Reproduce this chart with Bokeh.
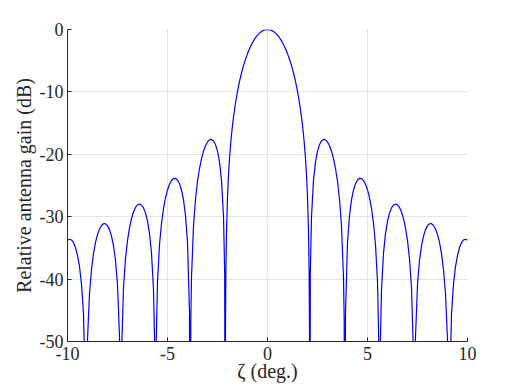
from bokeh.plotting import figure
from bokeh.models import Range1d, FixedTicker, CustomJSTickFormatter
from bokeh.embed import file_html
from bokeh.resources import INLINE

# Angle off boresight (degrees) and relative antenna gain (dB)
ZETA_DEG = [
    -10.0, -9.9, -9.8, -9.7, -9.6, -9.5, -9.4, -9.3, -9.2, -9.1, -9.075, -9.045,
    -9.0, -8.9, -8.8, -8.7, -8.6, -8.5, -8.4, -8.3, -8.2, -8.1, -8.0, -7.9, -7.8,
    -7.7, -7.6, -7.5, -7.4, -7.371, -7.341,
    -7.3, -7.2, -7.1, -7.0, -6.9, -6.8, -6.7, -6.6, -6.5, -6.4, -6.3, -6.2, -6.1,
    -6.0, -5.9, -5.8, -5.7, -5.635, -5.605, -5.575,
    -5.5, -5.4, -5.3, -5.2, -5.1, -5.0, -4.9, -4.8, -4.7, -4.6, -4.5, -4.4, -4.3,
    -4.2, -4.1, -4.0, -3.9, -3.865, -3.835,
    -3.8, -3.7, -3.6, -3.5, -3.4, -3.3, -3.2, -3.1, -3.0, -2.9, -2.8, -2.7, -2.6,
    -2.5, -2.4, -2.3, -2.2, -2.14, -2.111,
    -2.1, -2.08, -2.05, -2.0, -1.95, -1.9, -1.85, -1.8, -1.75,
    -1.7, -1.6, -1.5, -1.4, -1.3, -1.2, -1.1, -1.0, -0.9, -0.8, -0.7, -0.6, -0.5,
    -0.4, -0.3, -0.2, -0.1,
    0.0,
    0.1, 0.2, 0.3, 0.4, 0.5, 0.6, 0.7, 0.8, 0.9, 1.0, 1.1, 1.2, 1.3, 1.4, 1.5,
    1.6, 1.7,
    1.75, 1.8, 1.85, 1.9, 1.95, 2.0, 2.05, 2.08, 2.1,
    2.111, 2.14, 2.2,
    2.3, 2.4, 2.5, 2.6, 2.7, 2.8, 2.9, 3.0, 3.1, 3.2, 3.3, 3.4, 3.5, 3.6, 3.7, 3.8,
    3.835, 3.865, 3.9,
    4.0, 4.1, 4.2, 4.3, 4.4, 4.5, 4.6, 4.7, 4.8, 4.9, 5.0, 5.1, 5.2, 5.3, 5.4, 5.5,
    5.575, 5.605, 5.635,
    5.7, 5.8, 5.9, 6.0, 6.1, 6.2, 6.3, 6.4, 6.5, 6.6, 6.7, 6.8, 6.9, 7.0, 7.1,
    7.2, 7.3,
    7.341, 7.371,
    7.4, 7.5, 7.6, 7.7, 7.8, 7.9, 8.0, 8.1, 8.2, 8.3, 8.4, 8.5, 8.6, 8.7, 8.8,
    8.9, 9.0,
    9.045, 9.075,
    9.1, 9.2, 9.3, 9.4, 9.5, 9.6, 9.7, 9.8, 9.9, 10.0,
]

GAIN_DB = [
    -33.76, -33.61, -33.73, -34.17, -34.95, -36.20, -38.01, -40.80, -45.60, -59.3, -100.0, -57.7,
    -49.69, -42.31, -38.46, -35.92, -34.12, -32.87, -31.97, -31.40, -31.12, -31.13, -31.43, -32.07, -33.12,
    -34.66, -37.02, -40.89, -49.22, -55.0, -100.0,
    -52.2, -41.38, -36.73, -33.83, -31.78, -30.31, -29.25, -28.52, -28.10, -27.97, -28.12, -28.59, -29.43,
    -30.72, -32.70, -35.84, -41.76, -51.5, -100.0, -51.5,
    -40.47, -34.50, -31.06, -28.68, -26.98, -25.71, -24.80, -24.20, -23.89, -23.85, -24.11, -24.71, -25.72,
    -27.30, -29.80, -34.13, -45.4, -100.0, -46.6,
    -39.79, -31.47, -27.20, -24.35, -22.28, -20.69, -19.50, -18.62, -18.02, -17.69, -17.62, -17.86, -18.44,
    -19.49, -21.22, -24.14, -29.98, -39.1, -100.0,
    -47.4, -38.4, -32.37, -26.81, -23.31, -20.70, -18.62, -16.87, -15.37,
    -14.04, -11.78, -9.92, -8.33, -6.97, -5.79, -4.76, -3.86, -3.08, -2.40, -1.82, -1.32, -0.91,
    -0.58, -0.32, -0.14, -0.04,
    0.00,
    -0.04, -0.14, -0.32, -0.58, -0.91, -1.32, -1.82, -2.40, -3.08, -3.86, -4.76, -5.79, -6.97, -8.33, -9.92,
    -11.78, -14.04,
    -15.37, -16.87, -18.62, -20.70, -23.31, -26.81, -32.37, -38.4, -47.4,
    -100.0, -39.1, -29.98,
    -24.14, -21.22, -19.49, -18.44, -17.86, -17.62, -17.69, -18.02, -18.62, -19.50, -20.69, -22.28, -24.35, -27.20, -31.47, -39.79,
    -46.6, -100.0, -45.4,
    -34.13, -29.80, -27.30, -25.72, -24.71, -24.11, -23.85, -23.89, -24.20, -24.80, -25.71, -26.98, -28.68, -31.06, -34.50, -40.47,
    -51.5, -100.0, -51.5,
    -41.76, -35.84, -32.70, -30.72, -29.43, -28.59, -28.12, -27.97, -28.10, -28.52, -29.25, -30.31, -31.78, -33.83, -36.73,
    -41.38, -52.2,
    -100.0, -55.0,
    -49.22, -40.89, -37.02, -34.66, -33.12, -32.07, -31.43, -31.13, -31.12, -31.40, -31.97, -32.87, -34.12, -35.92, -38.46,
    -42.31, -49.69,
    -57.7, -100.0,
    -59.3, -45.60, -40.80, -38.01, -36.20, -34.95, -34.17, -33.73, -33.61, -33.76,
]

X_TICKS = [-10, -5, 0, 5, 10]
X_TICK_LABELS = ["-10", "-5", "0", "5", "10"]
Y_TICKS = [-50, -40, -30, -20, -10, 0]
Y_TICK_LABELS = ["-50", "-40", "-30", "-20", "-10", "0"]
X_LABEL = "ζ (deg.)"
Y_LABEL = "Relative antenna gain (dB)"

FONT = "Liberation Serif"
INK = "#262626"

LABEL_JS = """
const i = tick_values.indexOf(tick);
return i >= 0 ? tick_labels[i] : String(tick);
"""

p = figure(
    width=509, height=384,
    output_backend="svg", toolbar_location=None,
    x_range=Range1d(-10, 10), y_range=Range1d(-50, 0),
    min_border_left=67, min_border_right=42, min_border_top=29, min_border_bottom=43,
)
p.outline_line_color = None
p.background_fill_color = "white"
p.border_fill_color = "white"

p.line(ZETA_DEG, GAIN_DB, line_color="#0000ff", line_width=1.2)

xaxis = p.below[0]
yaxis = p.left[0]
xaxis.ticker = FixedTicker(ticks=X_TICKS)
yaxis.ticker = FixedTicker(ticks=Y_TICKS)
xaxis.formatter = CustomJSTickFormatter(
    args=dict(tick_values=X_TICKS, tick_labels=X_TICK_LABELS), code=LABEL_JS)
yaxis.formatter = CustomJSTickFormatter(
    args=dict(tick_values=Y_TICKS, tick_labels=Y_TICK_LABELS), code=LABEL_JS)
xaxis.axis_label = X_LABEL
yaxis.axis_label = Y_LABEL

for ax in (xaxis, yaxis):
    ax.axis_line_color = INK
    ax.axis_line_width = 1
    ax.major_tick_line_color = INK
    ax.major_tick_in = 4
    ax.major_tick_out = 0
    ax.minor_tick_line_color = None
    ax.major_label_text_font = FONT
    ax.major_label_text_font_size = "18px"
    ax.major_label_text_font_style = "normal"
    ax.major_label_text_color = INK
    ax.axis_label_text_font = FONT
    ax.axis_label_text_font_size = "20px"
    ax.axis_label_text_font_style = "normal"
    ax.axis_label_text_color = INK

xaxis.major_label_standoff = 5
xaxis.axis_label_standoff = -3
yaxis.major_label_standoff = 4
yaxis.axis_label_standoff = 2

p.grid.grid_line_color = "#e3e3e3"
p.grid.grid_line_width = 1

open("out.html", "w").write(file_html(p, INLINE))
